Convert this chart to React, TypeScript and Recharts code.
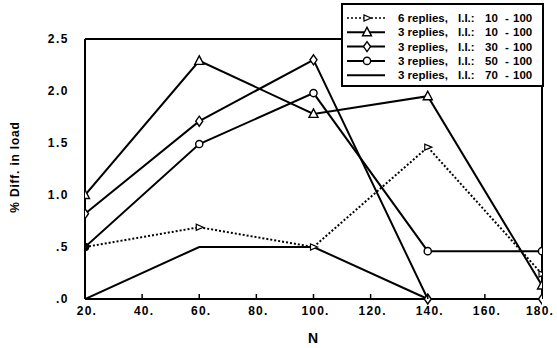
import React from "react";
import { LineChart, Line, XAxis, YAxis, Legend, ReferenceLine } from "recharts";

const nValues = [20, 60, 100, 140, 180];
const rep6_10 = [0.5, 0.69, 0.5, 1.46, 0.24];
const rep3_10 = [1.0, 2.29, 1.78, 1.95, 0.13];
const rep3_30 = [0.82, 1.71, 2.3, 0.0, 0.0];
const rep3_50 = [0.5, 1.49, 1.98, 0.46, 0.46];
const rep3_70: (number | null)[] = [0.0, 0.5, 0.5, 0.0, null];

const xTicks = [20, 40, 60, 80, 100, 120, 140, 160, 180];
const yTicks = [0, 0.5, 1.0, 1.5, 2.0, 2.5];
const yTickLabels = [".0", ".5", "1.0", "1.5", "2.0", "2.5"];

const legendLabels = [
  ["6 replies,", "I.I.:", "10", "-", "100"],
  ["3 replies,", "I.I.:", "10", "-", "100"],
  ["3 replies,", "I.I.:", "30", "-", "100"],
  ["3 replies,", "I.I.:", "50", "-", "100"],
  ["3 replies,", "I.I.:", "70", "-", "100"],
];

const data = nValues.map((n, i) => ({
  n,
  a: rep6_10[i],
  b: rep3_10[i],
  c: rep3_30[i],
  d: rep3_50[i],
  e: rep3_70[i],
}));

const FONT = "'Liberation Sans', Arial, Helvetica, sans-serif";

const Tri = ({ cx, cy }: any) => (
  <polygon points={`${cx},${cy - 5} ${cx - 4.5},${cy + 3.5} ${cx + 4.5},${cy + 3.5}`} fill="#fff" stroke="#000" strokeWidth={1.4} />
);
const TriRight = ({ cx, cy }: any) => (
  <polygon points={`${cx + 4},${cy} ${cx - 3},${cy - 3} ${cx - 3},${cy + 3}`} fill="#fff" stroke="#000" strokeWidth={1.2} />
);
const Diamond = ({ cx, cy }: any) => (
  <polygon points={`${cx},${cy - 5} ${cx + 3.5},${cy} ${cx},${cy + 5} ${cx - 3.5},${cy}`} fill="#fff" stroke="#000" strokeWidth={1.4} />
);
const Circ = ({ cx, cy, filled }: any) => (
  <circle cx={cx} cy={cy} r={3.6} fill={filled ? "#000" : "#fff"} stroke="#000" strokeWidth={1.4} />
);

const mkDot = (kind: string) => (props: any) => {
  const { cx, cy, index, value } = props;
  if (cx == null || cy == null || value == null) return <g key={`d${kind}${index}`} />;
  let el: any = null;
  if (kind === "a") el = index === 0 ? <Circ cx={cx} cy={cy} filled /> : <TriRight cx={cx} cy={cy} />;
  if (kind === "b") el = <Tri cx={cx} cy={cy} />;
  if (kind === "c") el = <Diamond cx={cx} cy={cy} />;
  if (kind === "d") el = <Circ cx={cx} cy={cy} filled={index === 0} />;
  return <g key={`d${kind}${index}`}>{el}</g>;
};

const XTick = (props: any) => {
  const { x, y, payload } = props;
  const v = payload.value;
  const inner = v !== 20 && v !== 180;
  const dx = v === 180 ? -2 : 2;
  return (
    <g>
      {inner && <line x1={x} x2={x} y1={y} y2={y - 5} stroke="#000" strokeWidth={1.5} />}
      <text x={x + dx} y={y + 16} textAnchor="middle" fontFamily={FONT} fontWeight="bold" fontSize={12} letterSpacing={1.2} fill="#000">
        {`${v}.`}
      </text>
    </g>
  );
};

const YTick = (props: any) => {
  const { x, y, payload } = props;
  const idx = yTicks.indexOf(payload.value);
  return (
    <text x={x} y={y + 4} textAnchor="end" fontFamily={FONT} fontWeight="bold" fontSize={12} letterSpacing={1.5} fill="#000">
      {yTickLabels[idx]}
    </text>
  );
};

const LegendBox = () => {
  const rows = [0, 1, 2, 3, 4];
  return (
    <svg width={203} height={85} style={{ display: "block" }}>
      <rect x={1} y={1} width={201} height={82} fill="#fff" stroke="#000" strokeWidth={2} />
      {rows.map((i) => {
        const y = 15 + i * 14.3;
        const lx1 = 6;
        const lx2 = 44;
        const mx = 26;
        return (
          <g key={i}>
            <line x1={lx1} x2={lx2} y1={y} y2={y} stroke="#000" strokeWidth={i === 0 ? 1.5 : 2} strokeDasharray={i === 0 ? "2 2" : undefined} />
            {i === 0 && <TriRight cx={mx} cy={y} />}
            {i === 1 && <Tri cx={mx} cy={y} />}
            {i === 2 && <Diamond cx={mx} cy={y} />}
            {i === 3 && <Circ cx={mx} cy={y} />}
            <g fontFamily={FONT} fontWeight="bold" fontSize={11.5} fill="#000">
              <text x={57} y={y + 4}>{legendLabels[i][0]}</text>
              <text x={117} y={y + 4}>{legendLabels[i][1]}</text>
              <text x={144} y={y + 4}>{legendLabels[i][2]}</text>
              <text x={164} y={y + 4}>{legendLabels[i][3]}</text>
              <text x={172} y={y + 4}>{legendLabels[i][4]}</text>
            </g>
          </g>
        );
      })}
    </svg>
  );
};

export default function App() {
  return (
    <div style={{ position: "absolute", left: 0, top: 0, width: 557, height: 348, background: "#fff" }}>
      <LineChart
        width={557}
        height={348}
        data={data}
        margin={{ top: 39, right: 15, bottom: 19, left: 25 }}
      >
        <XAxis
          dataKey="n"
          type="number"
          domain={[20, 180]}
          ticks={xTicks}
          tickLine={false}
          tickSize={0}
          tickMargin={0}
          height={30}
          axisLine={{ stroke: "#000", strokeWidth: 2 }}
          tick={<XTick />}
          interval={0}
          allowDataOverflow
        />
        <YAxis
          type="number"
          domain={[0, 2.5]}
          ticks={yTicks}
          tickLine={false}
          tickSize={0}
          tickMargin={16}
          width={60}
          axisLine={{ stroke: "#000", strokeWidth: 2 }}
          tick={<YTick />}
          interval={0}
        />
        <ReferenceLine y={2.5} stroke="#000" strokeWidth={2} />
        <ReferenceLine x={180} stroke="#000" strokeWidth={2} />
        <Line dataKey="e" stroke="#000" strokeWidth={2} dot={false} isAnimationActive={false} connectNulls={false} />
        <Line dataKey="a" stroke="#000" strokeWidth={2} strokeDasharray="2 2" dot={mkDot("a")} isAnimationActive={false} />
        <Line dataKey="b" stroke="#000" strokeWidth={2} dot={mkDot("b")} isAnimationActive={false} />
        <Line dataKey="c" stroke="#000" strokeWidth={2} dot={mkDot("c")} isAnimationActive={false} />
        <Line dataKey="d" stroke="#000" strokeWidth={2} dot={mkDot("d")} isAnimationActive={false} />
        <Legend
          layout="horizontal"
          verticalAlign="middle"
          align="center"
          wrapperStyle={{ left: 341, top: 3, width: 203, height: 85, right: "auto", bottom: "auto" }}
          content={() => <LegendBox />}
        />
      </LineChart>
      <div
        style={{
          position: "absolute",
          left: 15,
          top: 167,
          transform: "translate(-50%, -50%) rotate(-90deg)",
          fontFamily: FONT,
          fontWeight: "bold",
          fontSize: 12,
          letterSpacing: 0.8,
          whiteSpace: "nowrap",
          color: "#000",
        }}
      >
        % Diff. in load
      </div>
      <div
        style={{
          position: "absolute",
          left: 313,
          top: 338,
          transform: "translate(-50%, -50%)",
          fontFamily: FONT,
          fontWeight: "bold",
          fontSize: 14,
          color: "#000",
        }}
      >
        N
      </div>
    </div>
  );
}
